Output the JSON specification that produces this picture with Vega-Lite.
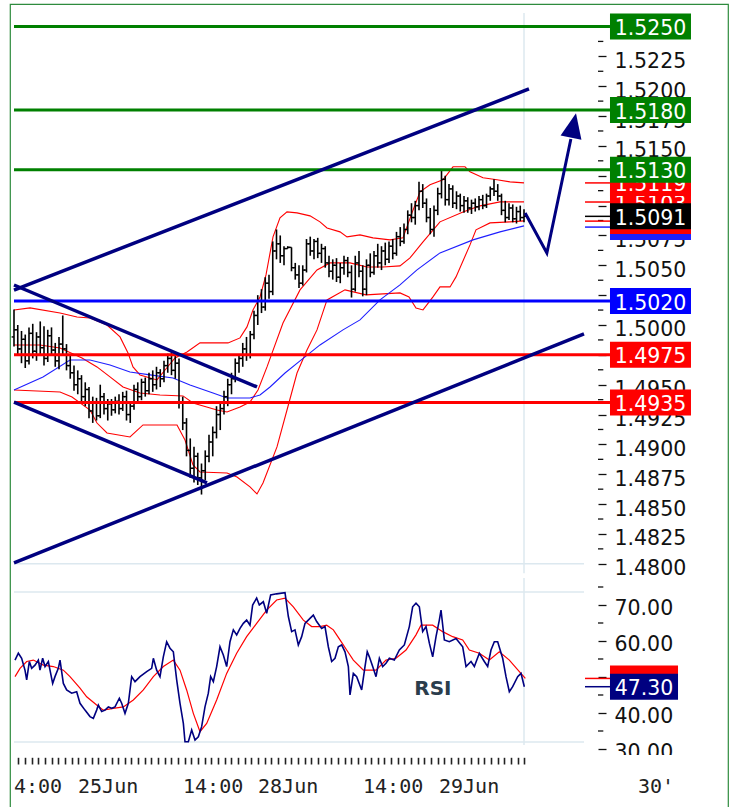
{
"$schema":"https://vega.github.io/schema/vega-lite/v6.json",
"width":718,"height":804,
"padding":{"left":10,"top":4,"right":4,"bottom":0},
"autosize":{"type":"none"},
"background":"white",
"config":{"view":{"stroke":"#2e8b3e","strokeWidth":1.2},"font":"DejaVu Sans"},
"datasets":{
"bars":[
{"t":0,"o":1.4990,"h":1.5013,"l":1.4982,"c":1.4996},
{"t":1,"o":1.4996,"h":1.5000,"l":1.4975,"c":1.4980},
{"t":2,"o":1.4980,"h":1.4995,"l":1.4968,"c":1.4988},
{"t":3,"o":1.4988,"h":1.4992,"l":1.4964,"c":1.4970},
{"t":4,"o":1.4970,"h":1.4998,"l":1.4967,"c":1.4993},
{"t":5,"o":1.4993,"h":1.5001,"l":1.4972,"c":1.4978},
{"t":6,"o":1.4978,"h":1.4994,"l":1.4970,"c":1.4990},
{"t":7,"o":1.4990,"h":1.5003,"l":1.4974,"c":1.4981},
{"t":8,"o":1.4981,"h":1.4999,"l":1.4966,"c":1.4972},
{"t":9,"o":1.4972,"h":1.4996,"l":1.4969,"c":1.4991},
{"t":10,"o":1.4991,"h":1.4998,"l":1.4975,"c":1.4979},
{"t":11,"o":1.4979,"h":1.4985,"l":1.4965,"c":1.4970},
{"t":12,"o":1.4970,"h":1.4990,"l":1.4963,"c":1.4984},
{"t":13,"o":1.4984,"h":1.5008,"l":1.4975,"c":1.4980},
{"t":14,"o":1.4980,"h":1.4984,"l":1.4962,"c":1.4966},
{"t":15,"o":1.4966,"h":1.4975,"l":1.4955,"c":1.4960},
{"t":16,"o":1.4960,"h":1.4966,"l":1.4945,"c":1.4950},
{"t":17,"o":1.4950,"h":1.4962,"l":1.4942,"c":1.4955},
{"t":18,"o":1.4955,"h":1.4958,"l":1.4936,"c":1.4940},
{"t":19,"o":1.4940,"h":1.4952,"l":1.4932,"c":1.4946},
{"t":20,"o":1.4946,"h":1.4948,"l":1.4922,"c":1.4928},
{"t":21,"o":1.4928,"h":1.4940,"l":1.4918,"c":1.4935},
{"t":22,"o":1.4935,"h":1.4939,"l":1.4920,"c":1.4924},
{"t":23,"o":1.4924,"h":1.4950,"l":1.4922,"c":1.4940},
{"t":24,"o":1.4940,"h":1.4943,"l":1.4925,"c":1.4930},
{"t":25,"o":1.4930,"h":1.4938,"l":1.4920,"c":1.4934},
{"t":26,"o":1.4934,"h":1.4938,"l":1.4924,"c":1.4929},
{"t":27,"o":1.4929,"h":1.4940,"l":1.4926,"c":1.4936},
{"t":28,"o":1.4936,"h":1.4942,"l":1.4925,"c":1.4930},
{"t":29,"o":1.4930,"h":1.4944,"l":1.4928,"c":1.4940},
{"t":30,"o":1.4940,"h":1.4945,"l":1.4920,"c":1.4925},
{"t":31,"o":1.4925,"h":1.4936,"l":1.4918,"c":1.4932},
{"t":32,"o":1.4932,"h":1.4950,"l":1.4929,"c":1.4946},
{"t":33,"o":1.4946,"h":1.4952,"l":1.4935,"c":1.4940},
{"t":34,"o":1.4940,"h":1.4955,"l":1.4937,"c":1.4952},
{"t":35,"o":1.4952,"h":1.4956,"l":1.4940,"c":1.4945},
{"t":36,"o":1.4945,"h":1.4960,"l":1.4942,"c":1.4955},
{"t":37,"o":1.4955,"h":1.4962,"l":1.4944,"c":1.4950},
{"t":38,"o":1.4950,"h":1.4965,"l":1.4946,"c":1.4960},
{"t":39,"o":1.4960,"h":1.4963,"l":1.4948,"c":1.4955},
{"t":40,"o":1.4955,"h":1.4970,"l":1.4952,"c":1.4966},
{"t":41,"o":1.4966,"h":1.4976,"l":1.4960,"c":1.4972},
{"t":42,"o":1.4972,"h":1.4978,"l":1.4958,"c":1.4962},
{"t":43,"o":1.4962,"h":1.4974,"l":1.4955,"c":1.4968},
{"t":44,"o":1.4968,"h":1.4972,"l":1.4930,"c":1.4935},
{"t":45,"o":1.4935,"h":1.4940,"l":1.4912,"c":1.4918},
{"t":46,"o":1.4918,"h":1.4922,"l":1.4890,"c":1.4895},
{"t":47,"o":1.4895,"h":1.4905,"l":1.4872,"c":1.4880},
{"t":48,"o":1.4880,"h":1.4898,"l":1.4868,"c":1.4890},
{"t":49,"o":1.4890,"h":1.4893,"l":1.4866,"c":1.4872},
{"t":50,"o":1.4872,"h":1.4884,"l":1.4858,"c":1.4878},
{"t":51,"o":1.4878,"h":1.4895,"l":1.4870,"c":1.4890},
{"t":52,"o":1.4890,"h":1.4908,"l":1.4885,"c":1.4902},
{"t":53,"o":1.4902,"h":1.4915,"l":1.4890,"c":1.4910},
{"t":54,"o":1.4910,"h":1.4932,"l":1.4905,"c":1.4925},
{"t":55,"o":1.4925,"h":1.4934,"l":1.4912,"c":1.4930},
{"t":56,"o":1.4930,"h":1.4945,"l":1.4925,"c":1.4940},
{"t":57,"o":1.4940,"h":1.4955,"l":1.4932,"c":1.4950},
{"t":58,"o":1.4950,"h":1.4960,"l":1.4942,"c":1.4955},
{"t":59,"o":1.4955,"h":1.4972,"l":1.4952,"c":1.4968},
{"t":60,"o":1.4968,"h":1.4975,"l":1.4960,"c":1.4972},
{"t":61,"o":1.4972,"h":1.4985,"l":1.4965,"c":1.4980},
{"t":62,"o":1.4980,"h":1.4990,"l":1.4970,"c":1.4975},
{"t":63,"o":1.4975,"h":1.4995,"l":1.4972,"c":1.4992},
{"t":64,"o":1.4992,"h":1.5012,"l":1.4988,"c":1.5008},
{"t":65,"o":1.5008,"h":1.5025,"l":1.5000,"c":1.5020},
{"t":66,"o":1.5020,"h":1.5030,"l":1.5010,"c":1.5015},
{"t":67,"o":1.5015,"h":1.5040,"l":1.5012,"c":1.5035},
{"t":68,"o":1.5035,"h":1.5042,"l":1.5022,"c":1.5028},
{"t":69,"o":1.5028,"h":1.5070,"l":1.5025,"c":1.5062},
{"t":70,"o":1.5062,"h":1.5080,"l":1.5055,"c":1.5068},
{"t":71,"o":1.5068,"h":1.5075,"l":1.5052,"c":1.5058},
{"t":72,"o":1.5058,"h":1.5066,"l":1.5050,"c":1.5064},
{"t":73,"o":1.5064,"h":1.5066,"l":1.5064,"c":1.5065},
{"t":74,"o":1.5065,"h":1.5065,"l":1.5045,"c":1.5048},
{"t":75,"o":1.5048,"h":1.5052,"l":1.5038,"c":1.5042},
{"t":76,"o":1.5042,"h":1.5050,"l":1.5031,"c":1.5035},
{"t":77,"o":1.5035,"h":1.5050,"l":1.5033,"c":1.5046},
{"t":78,"o":1.5046,"h":1.5072,"l":1.5044,"c":1.5068},
{"t":79,"o":1.5068,"h":1.5074,"l":1.5058,"c":1.5062},
{"t":80,"o":1.5062,"h":1.5072,"l":1.5055,"c":1.5070},
{"t":81,"o":1.5070,"h":1.5073,"l":1.5056,"c":1.5060},
{"t":82,"o":1.5060,"h":1.5068,"l":1.5052,"c":1.5064},
{"t":83,"o":1.5064,"h":1.5066,"l":1.5048,"c":1.5052},
{"t":84,"o":1.5052,"h":1.5058,"l":1.5040,"c":1.5045},
{"t":85,"o":1.5045,"h":1.5055,"l":1.5038,"c":1.5050},
{"t":86,"o":1.5050,"h":1.5056,"l":1.5036,"c":1.5040},
{"t":87,"o":1.5040,"h":1.5052,"l":1.5035,"c":1.5048},
{"t":88,"o":1.5048,"h":1.5058,"l":1.5042,"c":1.5054},
{"t":89,"o":1.5054,"h":1.5057,"l":1.5040,"c":1.5044},
{"t":90,"o":1.5044,"h":1.5050,"l":1.5023,"c":1.5030},
{"t":91,"o":1.5030,"h":1.5058,"l":1.5028,"c":1.5052},
{"t":92,"o":1.5052,"h":1.5062,"l":1.5040,"c":1.5045},
{"t":93,"o":1.5045,"h":1.5050,"l":1.5024,"c":1.5030},
{"t":94,"o":1.5030,"h":1.5055,"l":1.5025,"c":1.5050},
{"t":95,"o":1.5050,"h":1.5060,"l":1.5040,"c":1.5044},
{"t":96,"o":1.5044,"h":1.5062,"l":1.5042,"c":1.5058},
{"t":97,"o":1.5058,"h":1.5068,"l":1.5048,"c":1.5052},
{"t":98,"o":1.5052,"h":1.5066,"l":1.5046,"c":1.5062},
{"t":99,"o":1.5062,"h":1.5069,"l":1.5050,"c":1.5055},
{"t":100,"o":1.5055,"h":1.5070,"l":1.5052,"c":1.5066},
{"t":101,"o":1.5066,"h":1.5072,"l":1.5055,"c":1.5060},
{"t":102,"o":1.5060,"h":1.5078,"l":1.5058,"c":1.5074},
{"t":103,"o":1.5074,"h":1.5082,"l":1.5066,"c":1.5070},
{"t":104,"o":1.5070,"h":1.5085,"l":1.5068,"c":1.5080},
{"t":105,"o":1.5080,"h":1.5096,"l":1.5076,"c":1.5092},
{"t":106,"o":1.5092,"h":1.5102,"l":1.5086,"c":1.5090},
{"t":107,"o":1.5090,"h":1.5104,"l":1.5084,"c":1.5100},
{"t":108,"o":1.5100,"h":1.5120,"l":1.5096,"c":1.5112},
{"t":109,"o":1.5112,"h":1.5118,"l":1.5098,"c":1.5102},
{"t":110,"o":1.5102,"h":1.5106,"l":1.5086,"c":1.5090},
{"t":111,"o":1.5090,"h":1.5098,"l":1.5076,"c":1.5080},
{"t":112,"o":1.5080,"h":1.5100,"l":1.5074,"c":1.5096},
{"t":113,"o":1.5096,"h":1.5115,"l":1.5092,"c":1.5110},
{"t":114,"o":1.5110,"h":1.5129,"l":1.5106,"c":1.5122},
{"t":115,"o":1.5122,"h":1.5125,"l":1.5100,"c":1.5105},
{"t":116,"o":1.5105,"h":1.5118,"l":1.5100,"c":1.5114},
{"t":117,"o":1.5114,"h":1.5117,"l":1.5098,"c":1.5102},
{"t":118,"o":1.5102,"h":1.5112,"l":1.5097,"c":1.5108},
{"t":119,"o":1.5108,"h":1.5110,"l":1.5095,"c":1.5100},
{"t":120,"o":1.5100,"h":1.5108,"l":1.5094,"c":1.5104},
{"t":121,"o":1.5104,"h":1.5107,"l":1.5094,"c":1.5098},
{"t":122,"o":1.5098,"h":1.5105,"l":1.5093,"c":1.5102},
{"t":123,"o":1.5102,"h":1.5106,"l":1.5095,"c":1.5099},
{"t":124,"o":1.5099,"h":1.5108,"l":1.5096,"c":1.5105},
{"t":125,"o":1.5105,"h":1.5109,"l":1.5097,"c":1.5100},
{"t":126,"o":1.5100,"h":1.5110,"l":1.5098,"c":1.5108},
{"t":127,"o":1.5108,"h":1.5116,"l":1.5104,"c":1.5114},
{"t":128,"o":1.5114,"h":1.5122,"l":1.5108,"c":1.5112},
{"t":129,"o":1.5112,"h":1.5118,"l":1.5104,"c":1.5108},
{"t":130,"o":1.5108,"h":1.5110,"l":1.5092,"c":1.5096},
{"t":131,"o":1.5096,"h":1.5104,"l":1.5086,"c":1.5090},
{"t":132,"o":1.5090,"h":1.5102,"l":1.5088,"c":1.5098},
{"t":133,"o":1.5098,"h":1.5101,"l":1.5086,"c":1.5089},
{"t":134,"o":1.5089,"h":1.5099,"l":1.5085,"c":1.5095},
{"t":135,"o":1.5095,"h":1.5100,"l":1.5087,"c":1.5090},
{"t":136,"o":1.5090,"h":1.5097,"l":1.5086,"c":1.5091}
],
"bands":[
{"s":"upper","t":0,"v":1.50126},{"s":"upper","t":4.27,"v":1.50143},{"s":"upper","t":12.27,"v":1.50101},{"s":"upper","t":16.8,"v":1.50067},{"s":"upper","t":20.27,"v":1.50059},{"s":"upper","t":24.8,"v":1.50000},{"s":"upper","t":28.27,"v":1.49900},{"s":"upper","t":30.4,"v":1.49766},{"s":"upper","t":31.73,"v":1.49649},{"s":"upper","t":33.6,"v":1.49582},{"s":"upper","t":38.13,"v":1.49540},{"s":"upper","t":40.27,"v":1.49623},{"s":"upper","t":42.93,"v":1.49724},{"s":"upper","t":46.13,"v":1.49774},{"s":"upper","t":49.6,"v":1.49850},{"s":"upper","t":57.07,"v":1.49850},{"s":"upper","t":60.27,"v":1.49892},{"s":"upper","t":62.13,"v":1.49984},{"s":"upper","t":63.73,"v":1.50126},{"s":"upper","t":65.6,"v":1.50235},{"s":"upper","t":67.2,"v":1.50419},{"s":"upper","t":69.07,"v":1.50738},{"s":"upper","t":70.93,"v":1.50897},{"s":"upper","t":72.8,"v":1.50947},{"s":"upper","t":75.47,"v":1.50939},{"s":"upper","t":78.93,"v":1.50914},{"s":"upper","t":81.6,"v":1.50864},{"s":"upper","t":83.47,"v":1.50813},{"s":"upper","t":86.93,"v":1.50780},{"s":"upper","t":88.8,"v":1.50738},{"s":"upper","t":92.27,"v":1.50755},{"s":"upper","t":95.73,"v":1.50730},{"s":"upper","t":100.27,"v":1.50713},{"s":"upper","t":103.73,"v":1.50730},{"s":"upper","t":106.13,"v":1.50939},{"s":"upper","t":108.27,"v":1.51115},{"s":"upper","t":110.93,"v":1.51174},{"s":"upper","t":114.4,"v":1.51216},{"s":"upper","t":117.07,"v":1.51325},{"s":"upper","t":120.27,"v":1.51325},{"s":"upper","t":121.6,"v":1.51283},{"s":"upper","t":125.07,"v":1.51233},{"s":"upper","t":128.8,"v":1.51216},{"s":"upper","t":132.27,"v":1.51199},{"s":"upper","t":136,"v":1.51190},
{"s":"middle","t":0,"v":1.49833},{"s":"middle","t":6.93,"v":1.49833},{"s":"middle","t":12.27,"v":1.49808},{"s":"middle","t":18.13,"v":1.49724},{"s":"middle","t":22.13,"v":1.49649},{"s":"middle","t":25.6,"v":1.49565},{"s":"middle","t":29.07,"v":1.49481},{"s":"middle","t":33.6,"v":1.49431},{"s":"middle","t":38.93,"v":1.49414},{"s":"middle","t":45.07,"v":1.49406},{"s":"middle","t":47.73,"v":1.49347},{"s":"middle","t":54.13,"v":1.49288},{"s":"middle","t":56.8,"v":1.49272},{"s":"middle","t":60.27,"v":1.49313},{"s":"middle","t":62.93,"v":1.49355},{"s":"middle","t":65.07,"v":1.49456},{"s":"middle","t":67.47,"v":1.49649},{"s":"middle","t":71.73,"v":1.50017},{"s":"middle","t":76.27,"v":1.50294},{"s":"middle","t":80.8,"v":1.50461},{"s":"middle","t":84.27,"v":1.50520},{"s":"middle","t":89.6,"v":1.50520},{"s":"middle","t":94.13,"v":1.50486},{"s":"middle","t":98.4,"v":1.50486},{"s":"middle","t":102.93,"v":1.50495},{"s":"middle","t":105.6,"v":1.50562},{"s":"middle","t":109.07,"v":1.50696},{"s":"middle","t":113.6,"v":1.50864},{"s":"middle","t":119.73,"v":1.50947},{"s":"middle","t":124.27,"v":1.50998},{"s":"middle","t":129.6,"v":1.51031},{"s":"middle","t":136,"v":1.51031},
{"s":"lower","t":0,"v":1.49456},{"s":"lower","t":12.27,"v":1.49439},{"s":"lower","t":15.47,"v":1.49397},{"s":"lower","t":20.27,"v":1.49288},{"s":"lower","t":22.13,"v":1.49179},{"s":"lower","t":24.8,"v":1.49096},{"s":"lower","t":30.93,"v":1.49062},{"s":"lower","t":34.4,"v":1.49163},{"s":"lower","t":38.93,"v":1.49163},{"s":"lower","t":43.47,"v":1.49163},{"s":"lower","t":45.6,"v":1.49037},{"s":"lower","t":47.73,"v":1.48828},{"s":"lower","t":49.6,"v":1.48769},{"s":"lower","t":56.8,"v":1.48761},{"s":"lower","t":59.47,"v":1.48727},{"s":"lower","t":62.93,"v":1.48644},{"s":"lower","t":64.8,"v":1.48585},{"s":"lower","t":66.4,"v":1.48677},{"s":"lower","t":70.13,"v":1.48979},{"s":"lower","t":72.8,"v":1.49288},{"s":"lower","t":75.47,"v":1.49598},{"s":"lower","t":78.13,"v":1.49791},{"s":"lower","t":80.8,"v":1.49959},{"s":"lower","t":83.47,"v":1.50210},{"s":"lower","t":88.27,"v":1.50294},{"s":"lower","t":93.87,"v":1.50252},{"s":"lower","t":102.93,"v":1.50269},{"s":"lower","t":105.33,"v":1.50235},{"s":"lower","t":107.2,"v":1.50143},{"s":"lower","t":109.07,"v":1.50126},{"s":"lower","t":111.73,"v":1.50235},{"s":"lower","t":113.6,"v":1.50319},{"s":"lower","t":116.27,"v":1.50319},{"s":"lower","t":117.87,"v":1.50403},{"s":"lower","t":121.6,"v":1.50671},{"s":"lower","t":123.2,"v":1.50797},{"s":"lower","t":126.93,"v":1.50855},{"s":"lower","t":132.27,"v":1.50864},{"s":"lower","t":136,"v":1.50872},
{"s":"ma","t":0,"v":1.49456},{"s":"ma","t":7.73,"v":1.49565},{"s":"ma","t":14.93,"v":1.49707},{"s":"ma","t":20.27,"v":1.49707},{"s":"ma","t":25.6,"v":1.49665},{"s":"ma","t":30.93,"v":1.49607},{"s":"ma","t":36.27,"v":1.49582},{"s":"ma","t":42.4,"v":1.49556},{"s":"ma","t":46.93,"v":1.49498},{"s":"ma","t":53.07,"v":1.49431},{"s":"ma","t":56.8,"v":1.49389},{"s":"ma","t":62.93,"v":1.49389},{"s":"ma","t":65.6,"v":1.49414},{"s":"ma","t":68.27,"v":1.49481},{"s":"ma","t":72.27,"v":1.49598},{"s":"ma","t":76.27,"v":1.49699},{"s":"ma","t":81.6,"v":1.49833},{"s":"ma","t":87.73,"v":1.49959},{"s":"ma","t":92.27,"v":1.50043},{"s":"ma","t":97.6,"v":1.50210},{"s":"ma","t":102.93,"v":1.50336},{"s":"ma","t":107.47,"v":1.50462},{"s":"ma","t":113.6,"v":1.50604},{"s":"ma","t":122.4,"v":1.50713},{"s":"ma","t":129.6,"v":1.50780},{"s":"ma","t":136,"v":1.50830}
],
"levels":[{"v":1.525,"kind":"res","label":"1.5250"},{"v":1.518,"kind":"res","label":"1.5180"},{"v":1.513,"kind":"res","label":"1.5130"},{"v":1.502,"kind":"piv","label":"1.5020"},{"v":1.4975,"kind":"sup","label":"1.4975"},{"v":1.4935,"kind":"sup","label":"1.4935"}],
"tags":[{"v":1.5082,"kind":"ma","label":"1.5082"},{"v":1.5087,"kind":"lower","label":"1.5087"},{"v":1.5103,"kind":"middle","label":"1.5103"},{"v":1.5119,"kind":"upper","label":"1.5119"},{"v":1.5091,"kind":"price","label":"1.5091"}],
"channels":[{"id":"up","t":0,"v":1.50293},{"id":"up","t":137.33,"v":1.51977},{"id":"lo","t":0,"v":1.48007},{"id":"lo","t":152,"v":1.49925},{"id":"dup","t":0,"v":1.50335},{"id":"dup","t":64.8,"v":1.49481},{"id":"dlo","t":0,"v":1.49355},{"id":"dlo","t":51.47,"v":1.48677}],
"forecast":[{"t":136.3,"v":1.50938},{"t":142.1,"v":1.50603},{"t":148.5,"v":1.51558}],
"head":[{"t":149.2,"v":1.51671}],
"pgrid":[{"v":1.48}],
"pminor":[{"v":1.48125},{"v":1.48375},{"v":1.48625},{"v":1.48875},{"v":1.49125},{"v":1.49375},{"v":1.49625},{"v":1.49875},{"v":1.50125},{"v":1.50375},{"v":1.50625},{"v":1.50875},{"v":1.51125},{"v":1.51375},{"v":1.51625},{"v":1.51875},{"v":1.52125},{"v":1.52375}],
"rgrid":[{"v":73.61},{"v":31.94}],
"rminor":[{"v":35},{"v":45},{"v":55},{"v":65},{"v":75}],
"rtags":[{"v":49.6,"kind":"sig","label":"49.60"},{"v":47.3,"kind":"rsi","label":"47.30"}],
"times":[{"t":0,"label":"4:00"},{"t":17.07,"label":"25Jun"},{"t":45.07,"label":"14:00"},{"t":65.07,"label":"28Jun"},{"t":93.07,"label":"14:00"},{"t":113.33,"label":"29Jun"},{"t":166.4,"label":"30'"}],
"rsi":[
{"s":"rsi","t":0.27,"v":54.7},{"s":"rsi","t":1.16,"v":56.6},{"s":"rsi","t":2.04,"v":55.2},{"s":"rsi","t":2.93,"v":51.9},{"s":"rsi","t":3.38,"v":49.2},{"s":"rsi","t":4.09,"v":54.3},{"s":"rsi","t":4.71,"v":52.4},{"s":"rsi","t":5.6,"v":53.3},{"s":"rsi","t":6.49,"v":54.7},{"s":"rsi","t":6.93,"v":51.9},{"s":"rsi","t":7.64,"v":55.2},{"s":"rsi","t":8.27,"v":52.9},{"s":"rsi","t":9.16,"v":54.3},{"s":"rsi","t":9.6,"v":51.9},{"s":"rsi","t":10.31,"v":48.2},{"s":"rsi","t":10.93,"v":50.1},{"s":"rsi","t":11.82,"v":52.4},{"s":"rsi","t":12.27,"v":54.7},{"s":"rsi","t":13.16,"v":48.2},{"s":"rsi","t":14.04,"v":46.4},{"s":"rsi","t":15.38,"v":45.5},{"s":"rsi","t":16.71,"v":45.9},{"s":"rsi","t":17.6,"v":42.7},{"s":"rsi","t":18.93,"v":40.8},{"s":"rsi","t":20.27,"v":39.0},{"s":"rsi","t":21.16,"v":38.5},{"s":"rsi","t":22.04,"v":40.8},{"s":"rsi","t":22.49,"v":42.2},{"s":"rsi","t":23.38,"v":40.4},{"s":"rsi","t":24.27,"v":40.8},{"s":"rsi","t":25.16,"v":41.7},{"s":"rsi","t":26.04,"v":41.3},{"s":"rsi","t":26.93,"v":41.7},{"s":"rsi","t":28.09,"v":44.1},{"s":"rsi","t":28.71,"v":42.7},{"s":"rsi","t":29.6,"v":39.9},{"s":"rsi","t":30.49,"v":42.7},{"s":"rsi","t":31.38,"v":50.1},{"s":"rsi","t":32.27,"v":48.7},{"s":"rsi","t":33.6,"v":50.1},{"s":"rsi","t":35.38,"v":51.5},{"s":"rsi","t":36.71,"v":52.4},{"s":"rsi","t":37.16,"v":55.2},{"s":"rsi","t":38.04,"v":51.9},{"s":"rsi","t":38.93,"v":50.1},{"s":"rsi","t":39.82,"v":55.6},{"s":"rsi","t":40.71,"v":59.8},{"s":"rsi","t":41.6,"v":58.0},{"s":"rsi","t":42.49,"v":57.0},{"s":"rsi","t":43.38,"v":49.2},{"s":"rsi","t":44.27,"v":42.7},{"s":"rsi","t":45.16,"v":37.1},{"s":"rsi","t":45.6,"v":32.0},{"s":"rsi","t":46.49,"v":32.0},{"s":"rsi","t":47.38,"v":35.3},{"s":"rsi","t":48.27,"v":32.5},{"s":"rsi","t":49.16,"v":33.4},{"s":"rsi","t":50.04,"v":36.2},{"s":"rsi","t":50.93,"v":41.7},{"s":"rsi","t":51.82,"v":45.5},{"s":"rsi","t":52.44,"v":50.1},{"s":"rsi","t":53.16,"v":48.7},{"s":"rsi","t":54.04,"v":52.9},{"s":"rsi","t":54.93,"v":58.4},{"s":"rsi","t":55.82,"v":56.1},{"s":"rsi","t":56.71,"v":52.9},{"s":"rsi","t":57.6,"v":59.8},{"s":"rsi","t":58.49,"v":63.1},{"s":"rsi","t":59.38,"v":61.7},{"s":"rsi","t":60.27,"v":63.5},{"s":"rsi","t":61.16,"v":64.9},{"s":"rsi","t":62.04,"v":65.8},{"s":"rsi","t":62.93,"v":64.4},{"s":"rsi","t":63.64,"v":70.0},{"s":"rsi","t":64.71,"v":71.9},{"s":"rsi","t":65.42,"v":70.0},{"s":"rsi","t":66.49,"v":70.9},{"s":"rsi","t":67.38,"v":67.7},{"s":"rsi","t":68.44,"v":72.8},{"s":"rsi","t":70.04,"v":73.1},{"s":"rsi","t":72.27,"v":73.4},{"s":"rsi","t":73.16,"v":66.8},{"s":"rsi","t":74.04,"v":62.6},{"s":"rsi","t":74.93,"v":63.1},{"s":"rsi","t":75.82,"v":58.9},{"s":"rsi","t":76.71,"v":61.2},{"s":"rsi","t":77.6,"v":64.9},{"s":"rsi","t":78.93,"v":66.3},{"s":"rsi","t":79.82,"v":67.2},{"s":"rsi","t":80.71,"v":65.4},{"s":"rsi","t":82.04,"v":63.5},{"s":"rsi","t":82.93,"v":64.0},{"s":"rsi","t":83.82,"v":58.4},{"s":"rsi","t":84.71,"v":54.3},{"s":"rsi","t":85.6,"v":55.2},{"s":"rsi","t":86.49,"v":58.4},{"s":"rsi","t":87.38,"v":58.9},{"s":"rsi","t":88.27,"v":57.0},{"s":"rsi","t":89.16,"v":52.9},{"s":"rsi","t":89.6,"v":45.0},{"s":"rsi","t":90.49,"v":51.0},{"s":"rsi","t":91.38,"v":50.1},{"s":"rsi","t":92.71,"v":46.4},{"s":"rsi","t":93.6,"v":52.9},{"s":"rsi","t":94.2,"v":57.0},{"s":"rsi","t":94.76,"v":55.6},{"s":"rsi","t":95.65,"v":52.9},{"s":"rsi","t":96.54,"v":50.1},{"s":"rsi","t":97.43,"v":55.2},{"s":"rsi","t":98.31,"v":52.9},{"s":"rsi","t":99.2,"v":53.8},{"s":"rsi","t":100.09,"v":55.2},{"s":"rsi","t":101.42,"v":54.7},{"s":"rsi","t":102.76,"v":57.5},{"s":"rsi","t":104.09,"v":58.9},{"s":"rsi","t":105.42,"v":64.0},{"s":"rsi","t":106.31,"v":69.5},{"s":"rsi","t":107.2,"v":70.5},{"s":"rsi","t":108.09,"v":69.5},{"s":"rsi","t":108.98,"v":62.6},{"s":"rsi","t":109.87,"v":64.0},{"s":"rsi","t":110.76,"v":59.4},{"s":"rsi","t":111.65,"v":55.6},{"s":"rsi","t":112.54,"v":61.2},{"s":"rsi","t":113.42,"v":65.8},{"s":"rsi","t":113.87,"v":68.6},{"s":"rsi","t":114.76,"v":60.3},{"s":"rsi","t":116.09,"v":59.8},{"s":"rsi","t":117.87,"v":60.7},{"s":"rsi","t":119.65,"v":58.4},{"s":"rsi","t":120.54,"v":52.9},{"s":"rsi","t":121.87,"v":54.3},{"s":"rsi","t":122.76,"v":52.9},{"s":"rsi","t":124.09,"v":56.6},{"s":"rsi","t":125.42,"v":54.3},{"s":"rsi","t":126.31,"v":52.9},{"s":"rsi","t":127.2,"v":57.5},{"s":"rsi","t":128.09,"v":59.8},{"s":"rsi","t":128.98,"v":59.8},{"s":"rsi","t":130.31,"v":55.2},{"s":"rsi","t":131.2,"v":50.1},{"s":"rsi","t":132.09,"v":45.9},{"s":"rsi","t":132.98,"v":47.3},{"s":"rsi","t":134.31,"v":50.1},{"s":"rsi","t":135.2,"v":51.0},{"s":"rsi","t":136.09,"v":47.3},
{"s":"sig","t":0.27,"v":50.1},{"s":"sig","t":1.6,"v":52.4},{"s":"sig","t":3.38,"v":54.3},{"s":"sig","t":5.16,"v":54.7},{"s":"sig","t":7.82,"v":53.3},{"s":"sig","t":10.49,"v":52.9},{"s":"sig","t":13.16,"v":51.9},{"s":"sig","t":14.93,"v":50.1},{"s":"sig","t":17.6,"v":46.9},{"s":"sig","t":19.38,"v":44.5},{"s":"sig","t":22.04,"v":42.2},{"s":"sig","t":23.82,"v":40.8},{"s":"sig","t":26.49,"v":41.3},{"s":"sig","t":29.16,"v":41.7},{"s":"sig","t":31.82,"v":43.6},{"s":"sig","t":34.49,"v":46.4},{"s":"sig","t":37.16,"v":50.1},{"s":"sig","t":39.82,"v":52.9},{"s":"sig","t":42.49,"v":54.7},{"s":"sig","t":44.27,"v":51.9},{"s":"sig","t":46.04,"v":46.4},{"s":"sig","t":47.82,"v":39.9},{"s":"sig","t":49.6,"v":34.8},{"s":"sig","t":51.38,"v":37.1},{"s":"sig","t":54.04,"v":43.6},{"s":"sig","t":56.71,"v":51.0},{"s":"sig","t":59.38,"v":56.6},{"s":"sig","t":62.04,"v":61.2},{"s":"sig","t":64.71,"v":64.9},{"s":"sig","t":67.38,"v":68.6},{"s":"sig","t":70.04,"v":71.4},{"s":"sig","t":72.27,"v":71.9},{"s":"sig","t":74.49,"v":69.5},{"s":"sig","t":77.16,"v":65.8},{"s":"sig","t":79.38,"v":64.0},{"s":"sig","t":81.6,"v":64.0},{"s":"sig","t":83.38,"v":64.4},{"s":"sig","t":85.16,"v":63.1},{"s":"sig","t":86.93,"v":60.3},{"s":"sig","t":88.71,"v":57.5},{"s":"sig","t":90.49,"v":54.7},{"s":"sig","t":93.16,"v":51.9},{"s":"sig","t":96.54,"v":51.9},{"s":"sig","t":99.2,"v":54.7},{"s":"sig","t":101.87,"v":55.2},{"s":"sig","t":104.54,"v":57.5},{"s":"sig","t":107.2,"v":61.7},{"s":"sig","t":108.54,"v":64.4},{"s":"sig","t":111.65,"v":64.4},{"s":"sig","t":114.31,"v":62.6},{"s":"sig","t":116.98,"v":61.2},{"s":"sig","t":119.65,"v":60.3},{"s":"sig","t":121.43,"v":57.5},{"s":"sig","t":124.09,"v":56.6},{"s":"sig","t":126.76,"v":54.7},{"s":"sig","t":129.42,"v":57.0},{"s":"sig","t":132.09,"v":54.7},{"s":"sig","t":134.76,"v":51.5},{"s":"sig","t":136.36,"v":49.6}
]
},
"layer":[
{"layer":[
{"data":{"name":"pgrid"},"mark":{"type":"rule","color":"#dce8ef","strokeWidth":1.5},
 "encoding":{"x":{"datum":0,"type":"quantitative","scale":{"domain":[-1.0667,190.4],"nice":false,"zero":false}},"x2":{"datum":152},
 "y":{"field":"v","type":"quantitative","scale":{"domain":[1.459548,1.526884],"nice":false,"zero":false},
  "axis":{"orient":"right","offset":-130,"values":[1.48,1.4825,1.485,1.4875,1.49,1.4925,1.495,1.4975,1.5,1.5025,1.505,1.5075,1.51,1.5125,1.515,1.5175,1.52,1.5225,1.525],"tickCount":500,"format":".4f","domain":false,"grid":false,"ticks":true,"tickSize":8,"tickColor":"#111","tickWidth":1.3,"labelFont":"DejaVu Sans","labelFontSize":20.5,"labelColor":"#111","labelPadding":8,"labelOffset":11,"labelAlign":"left","labelBaseline":"alphabetic","labelOverlap":false,"labelBound":false,"labelFlush":false,"title":null}}}},
{"data":{"values":[{}]},"mark":{"type":"rule","color":"#dce8ef","strokeWidth":1.5},
 "encoding":{"x":{"datum":136,"type":"quantitative","scale":{"domain":[-1.0667,190.4],"nice":false,"zero":false}},
 "y":{"datum":1.52613,"type":"quantitative","scale":{"domain":[1.459548,1.526884],"nice":false,"zero":false}},"y2":{"datum":1.4792}}},
{"data":{"name":"pminor"},"mark":{"type":"rule","color":"#111","strokeWidth":1.3},
 "encoding":{"x":{"datum":155.73,"type":"quantitative","scale":{"domain":[-1.0667,190.4],"nice":false,"zero":false}},"x2":{"datum":157.15},
 "y":{"field":"v","type":"quantitative","scale":{"domain":[1.459548,1.526884],"nice":false,"zero":false}}}},
{"data":{"name":"bands"},"mark":{"type":"line","strokeWidth":1.1},
 "encoding":{"x":{"field":"t","type":"quantitative","scale":{"domain":[-1.0667,190.4],"nice":false,"zero":false}},
 "y":{"field":"v","type":"quantitative","scale":{"domain":[1.459548,1.526884],"nice":false,"zero":false}},
 "color":{"field":"s","type":"nominal","scale":{"domain":["res","piv","sup","upper","middle","lower","price","ma","rsi","sig"],"range":["#008000","#0000ff","#ff0000","#ff0000","#ff0000","#ff0000","#000000","#1f1fff","#000080","#ff0000"]},"legend":null},
 "detail":{"field":"s"}}},
{"data":{"name":"bars"},"mark":{"type":"rule","color":"#000","strokeWidth":1.6},
 "encoding":{"x":{"field":"t","type":"quantitative","scale":{"domain":[-1.0667,190.4],"nice":false,"zero":false}},
 "y":{"field":"h","type":"quantitative","scale":{"domain":[1.459548,1.526884],"nice":false,"zero":false}},"y2":{"field":"l"}}},
{"data":{"name":"bars"},"mark":{"type":"rule","color":"#000","strokeWidth":1.4,"xOffset":-2.4,"x2Offset":0},
 "encoding":{"x":{"field":"t","type":"quantitative","scale":{"domain":[-1.0667,190.4],"nice":false,"zero":false}},"x2":{"field":"t"},
 "y":{"field":"o","type":"quantitative","scale":{"domain":[1.459548,1.526884],"nice":false,"zero":false}}}},
{"data":{"name":"bars"},"mark":{"type":"rule","color":"#000","strokeWidth":1.4,"xOffset":0,"x2Offset":2.4},
 "encoding":{"x":{"field":"t","type":"quantitative","scale":{"domain":[-1.0667,190.4],"nice":false,"zero":false}},"x2":{"field":"t"},
 "y":{"field":"c","type":"quantitative","scale":{"domain":[1.459548,1.526884],"nice":false,"zero":false}}}},
{"data":{"name":"levels"},"mark":{"type":"rule","strokeWidth":3},
 "encoding":{"x":{"datum":0,"type":"quantitative","scale":{"domain":[-1.0667,190.4],"nice":false,"zero":false}},"x2":{"datum":158.93},
 "y":{"field":"v","type":"quantitative","scale":{"domain":[1.459548,1.526884],"nice":false,"zero":false}},
 "color":{"field":"kind","type":"nominal","scale":{"domain":["res","piv","sup","upper","middle","lower","price","ma","rsi","sig"],"range":["#008000","#0000ff","#ff0000","#ff0000","#ff0000","#ff0000","#000000","#1f1fff","#000080","#ff0000"]},"legend":null}}},
{"data":{"name":"channels"},"mark":{"type":"line","color":"#000080","strokeWidth":3.5},
 "encoding":{"x":{"field":"t","type":"quantitative","scale":{"domain":[-1.0667,190.4],"nice":false,"zero":false}},
 "y":{"field":"v","type":"quantitative","scale":{"domain":[1.459548,1.526884],"nice":false,"zero":false}},"detail":{"field":"id"}}},
{"data":{"name":"forecast"},"mark":{"type":"line","color":"#000080","strokeWidth":3},
 "encoding":{"x":{"field":"t","type":"quantitative","scale":{"domain":[-1.0667,190.4],"nice":false,"zero":false}},
 "y":{"field":"v","type":"quantitative","scale":{"domain":[1.459548,1.526884],"nice":false,"zero":false}}}},
{"data":{"name":"head"},"mark":{"type":"point","shape":"M0,-1L-0.85,1L0.85,1Z","size":625,"angle":11.5,"filled":true,"color":"#000080","opacity":1,"strokeWidth":0},
 "encoding":{"x":{"field":"t","type":"quantitative","scale":{"domain":[-1.0667,190.4],"nice":false,"zero":false}},
 "y":{"field":"v","type":"quantitative","scale":{"domain":[1.459548,1.526884],"nice":false,"zero":false}}}},
{"data":{"name":"tags"},"mark":{"type":"rule","strokeWidth":1.5},
 "encoding":{"x":{"datum":152.27,"type":"quantitative","scale":{"domain":[-1.0667,190.4],"nice":false,"zero":false}},"x2":{"datum":158.93},
 "y":{"field":"v","type":"quantitative","scale":{"domain":[1.459548,1.526884],"nice":false,"zero":false}},
 "color":{"field":"kind","type":"nominal","scale":{"domain":["res","piv","sup","upper","middle","lower","price","ma","rsi","sig"],"range":["#008000","#0000ff","#ff0000","#ff0000","#ff0000","#ff0000","#000000","#1f1fff","#000080","#ff0000"]},"legend":null}}},
{"data":{"name":"tags"},"transform":[{"filter":{"field":"kind","oneOf":["ma","lower","middle"]}}],"mark":{"type":"rect","yOffset":-13,"y2Offset":13},
 "encoding":{"x":{"datum":158.93,"type":"quantitative","scale":{"domain":[-1.0667,190.4],"nice":false,"zero":false}},"x2":{"datum":180.53},
 "y":{"field":"v","type":"quantitative","scale":{"domain":[1.459548,1.526884],"nice":false,"zero":false}},"y2":{"field":"v"},
 "color":{"field":"kind","type":"nominal","scale":{"domain":["res","piv","sup","upper","middle","lower","price","ma","rsi","sig"],"range":["#008000","#0000ff","#ff0000","#ff0000","#ff0000","#ff0000","#000000","#1f1fff","#000080","#ff0000"]},"legend":null}}},
{"data":{"name":"tags"},"transform":[{"filter":{"field":"kind","equal":"middle"}}],"mark":{"type":"text","color":"white","font":"DejaVu Sans","fontSize":20.5,"align":"center","baseline":"alphabetic","dy":8.5},
 "encoding":{"x":{"datum":169.73,"type":"quantitative","scale":{"domain":[-1.0667,190.4],"nice":false,"zero":false}},
 "y":{"field":"v","type":"quantitative","scale":{"domain":[1.459548,1.526884],"nice":false,"zero":false}},"text":{"field":"label"}}},
{"data":{"name":"tags"},"transform":[{"filter":{"field":"kind","equal":"upper"}}],"mark":{"type":"rect","yOffset":-13,"y2Offset":13},
 "encoding":{"x":{"datum":158.93,"type":"quantitative","scale":{"domain":[-1.0667,190.4],"nice":false,"zero":false}},"x2":{"datum":180.53},
 "y":{"field":"v","type":"quantitative","scale":{"domain":[1.459548,1.526884],"nice":false,"zero":false}},"y2":{"field":"v"},
 "color":{"field":"kind","type":"nominal","scale":{"domain":["res","piv","sup","upper","middle","lower","price","ma","rsi","sig"],"range":["#008000","#0000ff","#ff0000","#ff0000","#ff0000","#ff0000","#000000","#1f1fff","#000080","#ff0000"]},"legend":null}}},
{"data":{"name":"tags"},"transform":[{"filter":{"field":"kind","equal":"upper"}}],"mark":{"type":"text","color":"white","font":"DejaVu Sans","fontSize":20.5,"align":"center","baseline":"alphabetic","dy":8.5},
 "encoding":{"x":{"datum":169.73,"type":"quantitative","scale":{"domain":[-1.0667,190.4],"nice":false,"zero":false}},
 "y":{"field":"v","type":"quantitative","scale":{"domain":[1.459548,1.526884],"nice":false,"zero":false}},"text":{"field":"label"}}},
{"data":{"name":"tags"},"transform":[{"filter":{"field":"kind","equal":"price"}}],"mark":{"type":"rect","yOffset":-13,"y2Offset":13},
 "encoding":{"x":{"datum":158.93,"type":"quantitative","scale":{"domain":[-1.0667,190.4],"nice":false,"zero":false}},"x2":{"datum":180.53},
 "y":{"field":"v","type":"quantitative","scale":{"domain":[1.459548,1.526884],"nice":false,"zero":false}},"y2":{"field":"v"},
 "color":{"field":"kind","type":"nominal","scale":{"domain":["res","piv","sup","upper","middle","lower","price","ma","rsi","sig"],"range":["#008000","#0000ff","#ff0000","#ff0000","#ff0000","#ff0000","#000000","#1f1fff","#000080","#ff0000"]},"legend":null}}},
{"data":{"name":"tags"},"transform":[{"filter":{"field":"kind","equal":"price"}}],"mark":{"type":"text","color":"white","font":"DejaVu Sans","fontSize":20.5,"align":"center","baseline":"alphabetic","dy":8.5},
 "encoding":{"x":{"datum":169.73,"type":"quantitative","scale":{"domain":[-1.0667,190.4],"nice":false,"zero":false}},
 "y":{"field":"v","type":"quantitative","scale":{"domain":[1.459548,1.526884],"nice":false,"zero":false}},"text":{"field":"label"}}},
{"data":{"name":"levels"},"mark":{"type":"rect","yOffset":-13,"y2Offset":13},
 "encoding":{"x":{"datum":158.93,"type":"quantitative","scale":{"domain":[-1.0667,190.4],"nice":false,"zero":false}},"x2":{"datum":180.53},
 "y":{"field":"v","type":"quantitative","scale":{"domain":[1.459548,1.526884],"nice":false,"zero":false}},"y2":{"field":"v"},
 "color":{"field":"kind","type":"nominal","scale":{"domain":["res","piv","sup","upper","middle","lower","price","ma","rsi","sig"],"range":["#008000","#0000ff","#ff0000","#ff0000","#ff0000","#ff0000","#000000","#1f1fff","#000080","#ff0000"]},"legend":null}}},
{"data":{"name":"levels"},"mark":{"type":"text","color":"white","font":"DejaVu Sans","fontSize":20.5,"align":"center","baseline":"alphabetic","dy":8.5},
 "encoding":{"x":{"datum":169.73,"type":"quantitative","scale":{"domain":[-1.0667,190.4],"nice":false,"zero":false}},
 "y":{"field":"v","type":"quantitative","scale":{"domain":[1.459548,1.526884],"nice":false,"zero":false}},"text":{"field":"label"}}}
]},
{"layer":[
{"data":{"name":"rgrid"},"mark":{"type":"rule","color":"#dce8ef","strokeWidth":1.5},
 "encoding":{"x":{"datum":0,"type":"quantitative","scale":{"domain":[-1.0667,190.4],"nice":false,"zero":false}},"x2":{"datum":152},
 "y":{"field":"v","type":"quantitative","scale":{"domain":[13.61,236.94],"nice":false,"zero":false},
  "axis":{"orient":"right","offset":-130,"values":[30,40,50,60,70],"tickCount":500,"format":".2f","domain":false,"grid":false,"ticks":true,"tickSize":8,"tickColor":"#111","tickWidth":1.3,"labelFont":"DejaVu Sans","labelFontSize":20.5,"labelColor":"#111","labelPadding":8,"labelOffset":10,"labelAlign":"left","labelBaseline":"alphabetic","labelOverlap":false,"labelBound":false,"labelFlush":false,"title":null}}}},
{"data":{"values":[{}]},"mark":{"type":"rule","color":"#dce8ef","strokeWidth":1.5},
 "encoding":{"x":{"datum":136,"type":"quantitative","scale":{"domain":[-1.0667,190.4],"nice":false,"zero":false}},
 "y":{"datum":77.5,"type":"quantitative","scale":{"domain":[13.61,236.94],"nice":false,"zero":false}},"y2":{"datum":31.1}}},
{"data":{"name":"rminor"},"mark":{"type":"rule","color":"#111","strokeWidth":1.3},
 "encoding":{"x":{"datum":155.73,"type":"quantitative","scale":{"domain":[-1.0667,190.4],"nice":false,"zero":false}},"x2":{"datum":157.15},
 "y":{"field":"v","type":"quantitative","scale":{"domain":[13.61,236.94],"nice":false,"zero":false}}}},
{"data":{"name":"rsi"},"transform":[{"filter":{"field":"s","equal":"sig"}}],"mark":{"type":"line","color":"#ff0000","strokeWidth":1.2},
 "encoding":{"x":{"field":"t","type":"quantitative","scale":{"domain":[-1.0667,190.4],"nice":false,"zero":false}},
 "y":{"field":"v","type":"quantitative","scale":{"domain":[13.61,236.94],"nice":false,"zero":false}}}},
{"data":{"name":"rsi"},"transform":[{"filter":{"field":"s","equal":"rsi"}}],"mark":{"type":"line","color":"#000080","strokeWidth":1.6},
 "encoding":{"x":{"field":"t","type":"quantitative","scale":{"domain":[-1.0667,190.4],"nice":false,"zero":false},
  "axis":{"orient":"bottom","offset":-50.7,"values":[1.15,2.92,4.70,6.47,8.25,10.02,11.80,13.58,15.35,17.13,18.90,20.68,22.45,24.23,26.00,27.78,29.55,31.33,33.10,34.88,36.66,38.43,40.21,41.98,43.76,45.53,47.31,49.08,50.86,52.63,54.41,56.18,57.96,59.74,61.51,63.29,65.06,66.84,68.61,70.39,72.16,73.94,75.71,77.49,79.26,81.04,82.82,84.59,86.37,88.14,89.92,91.69,93.47,95.24,97.02,98.79,100.57,102.34,104.12,105.90,107.67,109.45,111.22,113.00,114.77,116.55,118.32,120.10,121.87,123.65,125.42,127.20,128.98,130.75,132.53,134.30,136.08],"tickCount":500,"labels":false,"domain":false,"grid":false,"ticks":true,"tickSize":6.7,"tickColor":"#222","tickWidth":1.6,"title":null}},
 "y":{"field":"v","type":"quantitative","scale":{"domain":[13.61,236.94],"nice":false,"zero":false}}}},
{"data":{"values":[{"label":"RSI"}]},"mark":{"type":"text","color":"#2b3d4c","font":"DejaVu Sans","fontSize":20,"fontWeight":"bold","align":"left","baseline":"alphabetic"},
 "encoding":{"x":{"datum":106.75,"type":"quantitative","scale":{"domain":[-1.0667,190.4],"nice":false,"zero":false}},
 "y":{"datum":45.0,"type":"quantitative","scale":{"domain":[13.61,236.94],"nice":false,"zero":false}},"text":{"field":"label"}}},
{"data":{"name":"rtags"},"mark":{"type":"rule","strokeWidth":1.5},
 "encoding":{"x":{"datum":152.27,"type":"quantitative","scale":{"domain":[-1.0667,190.4],"nice":false,"zero":false}},"x2":{"datum":158.93},
 "y":{"field":"v","type":"quantitative","scale":{"domain":[13.61,236.94],"nice":false,"zero":false}},
 "color":{"field":"kind","type":"nominal","scale":{"domain":["res","piv","sup","upper","middle","lower","price","ma","rsi","sig"],"range":["#008000","#0000ff","#ff0000","#ff0000","#ff0000","#ff0000","#000000","#1f1fff","#000080","#ff0000"]},"legend":null}}},
{"data":{"name":"rtags"},"mark":{"type":"rect","yOffset":-13,"y2Offset":13},
 "encoding":{"x":{"datum":158.93,"type":"quantitative","scale":{"domain":[-1.0667,190.4],"nice":false,"zero":false}},"x2":{"datum":177.07},
 "y":{"field":"v","type":"quantitative","scale":{"domain":[13.61,236.94],"nice":false,"zero":false}},"y2":{"field":"v"},
 "color":{"field":"kind","type":"nominal","scale":{"domain":["res","piv","sup","upper","middle","lower","price","ma","rsi","sig"],"range":["#008000","#0000ff","#ff0000","#ff0000","#ff0000","#ff0000","#000000","#1f1fff","#000080","#ff0000"]},"legend":null}}},
{"data":{"name":"rtags"},"transform":[{"filter":{"field":"kind","equal":"rsi"}}],"mark":{"type":"text","color":"white","font":"DejaVu Sans","fontSize":20.5,"align":"center","baseline":"alphabetic","dy":8.3},
 "encoding":{"x":{"datum":168,"type":"quantitative","scale":{"domain":[-1.0667,190.4],"nice":false,"zero":false}},
 "y":{"field":"v","type":"quantitative","scale":{"domain":[13.61,236.94],"nice":false,"zero":false}},"text":{"field":"label"}}},
{"data":{"values":[{}]},"mark":{"type":"rect","color":"white"},
 "encoding":{"x":{"datum":155,"type":"quantitative","scale":{"domain":[-1.0667,190.4],"nice":false,"zero":false}},"x2":{"datum":185},
 "y":{"datum":28.33,"type":"quantitative","scale":{"domain":[13.61,236.94],"nice":false,"zero":false}},"y2":{"datum":23.5}}},
{"data":{"name":"times"},"mark":{"type":"text","font":"DejaVu Sans Mono","fontSize":20,"color":"#222","align":"left","baseline":"alphabetic"},
 "encoding":{"x":{"field":"t","type":"quantitative","scale":{"domain":[-1.0667,190.4],"nice":false,"zero":false}},
 "y":{"datum":17.64,"type":"quantitative","scale":{"domain":[13.61,236.94],"nice":false,"zero":false}},"text":{"field":"label"}}}
]}
],
"resolve":{"scale":{"y":"independent"}}
}
